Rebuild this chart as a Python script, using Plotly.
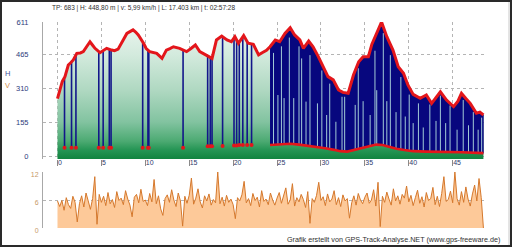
import plotly.graph_objects as go
import numpy as np

W, H = 512, 247
ML, MR, MT, MB = 43, 27, 22, 19

# ---------------- data ----------------
elev_km = [0.0, 0.28, 0.55, 0.85, 1.23, 1.5, 1.8, 2.2, 2.6, 2.94, 3.3, 3.7, 4.0, 4.27, 4.84,
           5.2, 5.6, 6.17, 6.5, 6.9, 7.4, 7.9, 8.3, 8.6, 8.9, 9.2, 9.8, 10.1, 10.5, 10.9,
           11.3, 11.9, 12.4, 12.8, 13.2, 13.9, 14.3, 14.7, 15.2, 15.7, 16.2, 16.7, 17.2, 17.6,
           18.1, 18.7, 19.3, 19.8, 20.2, 20.6, 21.2, 21.7, 22.3, 22.9, 23.4, 23.8, 24.2, 24.8,
           25.3, 25.9, 26.5, 27.0, 27.6, 28.0, 28.6, 29.1, 29.7, 30.3, 30.8, 31.4, 32.0, 32.5,
           33.1, 33.7, 34.3, 34.8, 35.4, 35.8, 36.2, 36.5, 36.9, 37.5, 38.2, 38.8, 39.4, 39.9,
           40.5, 41.3, 42.0, 42.6, 43.1, 43.6, 44.3, 45.1, 45.6, 46.0, 46.5, 47.0, 47.7, 48.1, 48.5]
elev_m = [262, 309, 340, 362, 415, 425, 438, 468, 470, 476, 495, 521, 505, 491, 471,
          482, 491, 483, 480, 487, 520, 559, 568, 575, 565, 552, 514, 490, 476, 472,
          468, 445, 483, 490, 498, 491, 485, 476, 490, 506, 476, 465, 453, 445,
          529, 547, 529, 521, 544, 514, 549, 514, 509, 461, 473, 482, 498, 529,
          521, 559, 585, 552, 529, 491, 524, 498, 453, 407, 362, 347, 301, 290,
          286, 369, 430, 453, 453, 510, 544, 575, 611, 544, 483, 407, 377, 324,
          281, 263, 278, 240, 265, 293, 255, 225, 250, 286, 262, 240, 195, 200, 187]

base_km = [24.2, 25.5, 26.5, 27.5, 28.5, 29.5, 30.5, 31.5, 32.2, 33.0, 33.8, 34.6, 35.4,
           36.3, 37.0, 37.8, 38.6, 39.5, 40.5, 42.0, 44.0, 46.0, 48.5]
base_m = [50, 52, 56, 52, 47, 40, 35, 28, 22, 20, 28, 36, 42,
          52, 50, 40, 33, 27, 22, 20, 19, 17, 13]

spike_km = [0.8, 1.6, 2.1, 4.7, 5.2, 5.9, 6.1, 9.7, 10.3, 10.4, 14.3, 17.1, 17.4, 17.6,
            18.8, 20.1, 20.4, 20.7, 21.1, 21.6, 22.1]
spike_top = [355, 430, 462, 478, 482, 487, 484, 518, 485, 480, 484, 455, 448, 455,
             545, 540, 530, 514, 545, 518, 510]
spike_base = [38, 38, 38, 38, 38, 38, 38, 38, 38, 38, 38, 44, 44, 44,
              46, 48, 48, 50, 50, 50, 50]

gap_km = [24.6, 25.1, 25.5, 25.8, 26.4, 26.9, 27.5, 27.8, 28.3, 28.75, 29.6, 30.1, 30.65,
          31.0, 31.7, 32.4, 32.7, 33.9, 34.25, 34.8, 35.6, 36.15, 36.35, 37.1, 37.5, 37.9,
          38.55, 39.1, 39.6, 40.05, 40.5, 41.1, 41.65, 42.4, 43.1, 43.6, 44.2, 44.7, 45.5,
          46.2, 46.8, 47.35, 47.9, 48.3]
gap_low = [52, 52, 53, 54, 56, 55, 52, 51, 49, 46, 41, 37, 34,
           31, 27, 21, 21, 30, 34, 38, 43, 52, 52, 49, 45, 42,
           35, 31, 28, 25, 22, 21, 21, 20, 20, 20, 19, 19, 18,
           17, 16, 15, 14, 13]
gap_high = [470, 278, 500, 264, 540, 264, 500, 445, 248, 460, 240, 390, 187,
            330, 156, 270, 270, 233, 400, 250, 187, 480, 300, 560, 250, 460,
            200, 360, 180, 280, 150, 240, 130, 235, 160, 275, 150, 230, 120,
            255, 140, 200, 120, 175]

speed_step = 0.25
speed_kmh = [
    5.8, 4.6, 5.9, 3.8, 6.5, 5.0, 4.2, 6.8, 5.5, 1.3, 5.2, 6.9, 4.5, 7.5, 5.8, 4.0, 6.3, 11.0, 0.8, 7.2,
    5.5, 6.8, 4.8, 7.6, 5.2, 6.1, 4.4, 7.8, 5.9, 6.4, 5.0, 8.0, 6.2, 4.9, 2.4, 6.6, 7.2, 5.4, 8.3, 5.7,
    6.0, 4.8, 7.4, 5.6, 10.4, 5.2, 6.9, 4.1, 2.7, 6.3, 7.1, 5.5, 8.2, 6.0, 4.6, 7.5, 5.8, 0.4, 6.8, 5.3,
    7.0, 10.7, 5.1, 6.4, 8.4, 5.6, 4.3, 6.9, 5.8, 7.3, 4.9, 6.1, 5.4, 12.0, 5.2, 6.6, 4.7, 7.0, 5.5, 6.2,
    5.0, 2.0, 6.5, 5.8, 7.1, 10.0, 5.4, 6.3, 4.8, 7.4, 5.9, 6.6, 4.5, 8.0, 5.7, 6.2, 5.0, 7.5, 6.0, 4.9,
    6.4, 7.6, 5.3, 6.8, 8.6, 5.1, 6.0, 9.5, 4.7, 6.5, 5.6, 7.2, 6.1, 4.4, 7.8, 1.0, 6.3, 5.5, 7.0, 9.8,
    5.9, 6.7, 4.8, 7.3, 5.6, 6.2, 8.0, 5.0, 6.5, 4.6, 7.1, 5.8, 6.3, 2.1, 5.4, 6.9, 4.9, 7.4, 6.0, 5.2,
    6.6, 7.5, 5.3, 6.0, 8.2, 4.7, 9.8, 0.3, 6.8, 5.5, 7.7, 6.2, 4.9, 8.4, 5.8, 6.9, 5.1, 7.2, 6.4, 9.0,
    5.6, 7.0, 4.8, 6.5, 8.1, 5.3, 6.7, 4.5, 7.6, 5.9, 6.3, 8.7, 5.0, 6.8, 4.6, 7.4, 11.0, 5.7, 6.1, 7.9,
    5.4, 12.0, 6.3, 4.9, 7.8, 5.5, 8.8, 6.2, 4.7, 7.3, 9.2, 5.8, 10.6, 6.5, 0.0]
speed_km = list(np.arange(len(speed_kmh)) * speed_step)

km_ticks = [0, 5, 10, 15, 20, 25, 30, 35, 40, 45]
h_ticks = [0, 155, 310, 465, 611]
v_ticks = [0, 6, 12]
header_text = "TP: 683 | H: 448,80 m | v: 5,99 km/h | L: 17.403 km | t: 02:57:28"
footer_text = "Grafik erstellt von GPS-Track-Analyse.NET (www.gps-freeware.de)"
h_label = "H"
v_label = "V"

# ---------------- layout helpers ----------------
PW, PH = W - ML - MR, H - MT - MB
def px_x(x):
    return (x - ML) / PW
def px_y(y):
    return (H - MB - y) / PH

X_RANGE = [-1.65, 48.68]
Y_TOP_MIN = -13.7
FONT = "Liberation Sans, Arial, sans-serif"
NAVY = "#07077e"
RED = "#e3161b"

fig = go.Figure()

# green gradient area under the elevation profile
fig.add_trace(go.Scatter(
    x=elev_km + [elev_km[-1], elev_km[0]],
    y=elev_m + [Y_TOP_MIN, Y_TOP_MIN],
    mode="lines", fill="toself",
    fillgradient=dict(type="vertical", start=Y_TOP_MIN, stop=611,
                      colorscale=[[0, "#11843f"], [0.07, "#279656"], [0.13, "#4caa72"],
                                  [0.27, "#82c3a0"], [0.5, "#afd8c1"], [0.76, "#d3eadd"],
                                  [1, "#edf7f1"]]),
    line=dict(width=0, color="rgba(0,0,0,0)"), hoverinfo="skip", showlegend=False))

# dense navy region
sel = [i for i, k in enumerate(elev_km) if k >= base_km[0]]
fig.add_trace(go.Scatter(
    x=[elev_km[i] for i in sel] + base_km[::-1],
    y=[elev_m[i] for i in sel] + base_m[::-1],
    mode="lines", fill="toself", fillcolor=NAVY,
    line=dict(width=0.5, color=NAVY), hoverinfo="skip", showlegend=False))

# light gaps in the navy region
gx, gy = [], []
for k, lo, hi in zip(gap_km, gap_low, gap_high):
    gx += [k, k, None]
    gy += [lo, hi, None]
fig.add_trace(go.Scatter(x=gx, y=gy, mode="lines",
                         line=dict(width=1, color="#a3cbd6"),
                         hoverinfo="skip", showlegend=False))

# sparse navy spikes
sx, sy = [], []
for k, lo, hi in zip(spike_km, spike_base, spike_top):
    sx += [k, k, None]
    sy += [lo, hi, None]
fig.add_trace(go.Scatter(x=sx, y=sy, mode="lines",
                         line=dict(width=1.6, color="#13168a"),
                         hoverinfo="skip", showlegend=False))

# lower red line + spike base dots
fig.add_trace(go.Scatter(x=base_km, y=base_m, mode="lines",
                         line=dict(width=2.6, color=RED), hoverinfo="skip", showlegend=False))
fig.add_trace(go.Scatter(x=spike_km, y=spike_base, mode="markers",
                         marker=dict(size=4, color=RED), hoverinfo="skip", showlegend=False))

# elevation profile
fig.add_trace(go.Scatter(x=elev_km, y=elev_m, mode="lines",
                         line=dict(width=3, color=RED), hoverinfo="skip", showlegend=False))

# speed
fig.add_trace(go.Scatter(x=speed_km, y=speed_kmh, mode="lines", fill="tozeroy",
                         fillcolor="#fdc999", line=dict(width=1, color="#d5782c"),
                         xaxis="x2", yaxis="y2", hoverinfo="skip", showlegend=False))

grid = dict(showgrid=True, gridcolor="#b4b4b4", griddash="dot", gridwidth=1)

fig.update_layout(
    width=W, height=H, margin=dict(l=ML, r=MR, t=MT, b=MB, pad=0),
    paper_bgcolor="white", plot_bgcolor="white", template="none",
    font=dict(family=FONT, size=7, color="#333"),
    xaxis=dict(domain=[0, 1], anchor="y", range=X_RANGE, tickmode="array",
               tickvals=km_ticks, ticktext=[str(t) for t in km_ticks],
               ticks="outside", ticklen=6, tickwidth=1, tickcolor="#8a8a8a",
               ticklabelposition="outside right", ticklabelstandoff=-3,
               tickfont=dict(size=7, color="#2e3a6e", family=FONT),
               zeroline=False, showline=False, **grid),
    yaxis=dict(domain=[px_y(159), 1], anchor="x", range=[Y_TOP_MIN, 611], tickmode="array",
               tickvals=h_ticks, ticktext=[str(t) for t in h_ticks], ticks="",
               ticklabelstandoff=12,
               tickfont=dict(size=7.5, color="#2c3c7c", family=FONT),
               zeroline=False, showline=True, linecolor="#a8a8a8", linewidth=1, **grid),
    xaxis2=dict(domain=[0, 1], anchor="y2", range=X_RANGE, showticklabels=False,
                ticks="", showgrid=False, zeroline=False, showline=False),
    yaxis2=dict(domain=[0, px_y(172)], anchor="x2", range=[0, 12], tickmode="array",
                tickvals=v_ticks, ticktext=[str(t) for t in v_ticks], ticks="",
                ticklabelstandoff=2, ticklabelshift=3,
                tickfont=dict(size=7, color="#c79868", family=FONT),
                zeroline=False, showline=True, linecolor="#a8a8a8", linewidth=1, **grid),
    annotations=[
        dict(text=header_text, x=px_x(143.5), y=px_y(8.5), xref="paper", yref="paper",
             xanchor="center", yanchor="middle", showarrow=False,
             font=dict(size=6.5, color="#303030", family=FONT)),
        dict(text=footer_text, x=px_x(502), y=px_y(239), xref="paper", yref="paper",
             xanchor="right", yanchor="middle", showarrow=False,
             font=dict(size=7.2, color="#303030", family=FONT)),
        dict(text=h_label, x=px_x(7.5), y=px_y(73), xref="paper", yref="paper",
             xanchor="center", yanchor="middle", showarrow=False,
             font=dict(size=7.5, color="#44549a", family=FONT)),
        dict(text=v_label, x=px_x(7.5), y=px_y(85), xref="paper", yref="paper",
             xanchor="center", yanchor="middle", showarrow=False,
             font=dict(size=7.5, color="#d38e4c", family=FONT)),
    ],
    shapes=[
        dict(type="rect", xref="paper", yref="paper", x0=px_x(1), x1=px_x(511),
             y0=px_y(246), y1=px_y(1), line=dict(color="#2a2a2a", width=2),
             fillcolor="rgba(0,0,0,0)", layer="above"),
        dict(type="line", xref="paper", yref="paper", x0=px_x(509), x1=px_x(509),
             y0=px_y(245), y1=px_y(2), line=dict(color="#c8c8c8", width=1), layer="above"),
    ],
)

fig.write_html("out.html")
